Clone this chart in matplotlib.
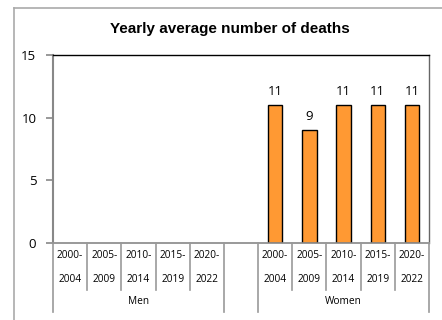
import numpy as np
import matplotlib.pyplot as plt
from matplotlib.lines import Line2D

# данные
periods = ["2000-\n2004", "2005-\n2009", "2010-\n2014", "2015-\n2019", "2020-\n2022"]
groups = ["Men", "Women"]
men = [np.nan, np.nan, np.nan, np.nan, np.nan]
women = [11, 9, 11, 11, 11]
title = "Yearly average number of deaths"
yticks = [0, 5, 10, 15]

W, H = 442, 320
fig = plt.figure(figsize=(W / 100, H / 100), dpi=100)

# plot area in pixels: left 53, right 429, top 55, bottom 243
x0, x1, y0, y1 = 53, 429, 55, 243
ax = fig.add_axes([x0 / W, 1 - y1 / H, (x1 - x0) / W, (y1 - y0) / H])

vals = men + [np.nan] + women
pos = np.arange(len(vals))
bars = ax.bar(pos, vals, width=0.42, color="#ff9933", edgecolor="black", linewidth=1)
for p, v in zip(pos, vals):
    if not np.isnan(v):
        ax.text(p, v + 0.6, f"{v:g}", ha="center", va="bottom", fontsize=9.5, family="Open Sans")

ax.set_xlim(-0.5, len(vals) - 0.5)
ax.set_ylim(0, 15)
ax.set_yticks(yticks)
ax.set_yticklabels([str(t) for t in yticks], fontsize=9.5, family="Open Sans")
ax.set_xticks([])
ax.tick_params(axis="y", length=5, color="#888888", width=1.2, pad=7)
ax.spines["left"].set_color("#888888")
ax.spines["left"].set_linewidth(1.5)
ax.spines["bottom"].set_color("#888888")
ax.spines["bottom"].set_linewidth(1.2)
ax.spines["top"].set_color("black")
ax.spines["top"].set_linewidth(1.0)
ax.spines["right"].set_color("#666666")
ax.spines["right"].set_linewidth(1.0)

fig.text(230 / W, 1 - 29 / H, title, ha="center", va="center",
         fontsize=11, fontweight="bold", family="Liberation Sans")

# category table below the axis
slot = (x1 - x0) / len(vals)
gray = "#999999"

def fx(px):
    return px / W

def fy(py):
    return 1 - py / H

for i in range(len(vals) + 1):
    xp = x0 + i * slot
    if i in (0, 5, 6, len(vals)):
        ytop, ybot = y1, 312
    else:
        ytop, ybot = y1, 290
    fig.add_artist(Line2D([fx(xp), fx(xp)], [fy(ytop), fy(ybot)], color=gray, lw=1.2))

for i, v in enumerate(vals):
    if i == 5:
        continue
    lab = periods[i] if i < 5 else periods[i - 6]
    cx = x0 + (i + 0.5) * slot
    top, bot = lab.split("\n")
    fig.text(fx(cx), fy(256), top, ha="center", va="center", fontsize=7.3, family="Open Sans")
    fig.text(fx(cx), fy(279), bot, ha="center", va="center", fontsize=7.3, family="Open Sans")

fig.text(fx(x0 + 2.5 * slot), fy(302), groups[0], ha="center", va="center", fontsize=7.3, family="Open Sans")
fig.text(fx(x0 + 8.5 * slot), fy(302), groups[1], ha="center", va="center", fontsize=7.3, family="Open Sans")

# outer chart frame
fig.add_artist(Line2D([fx(14), fx(14)], [fy(8), fy(H + 5)], color="#aaaaaa", lw=1.2))
fig.add_artist(Line2D([fx(14), fx(W + 5)], [fy(8), fy(8)], color="#aaaaaa", lw=1.2))

fig.savefig("out.png", dpi=100)
